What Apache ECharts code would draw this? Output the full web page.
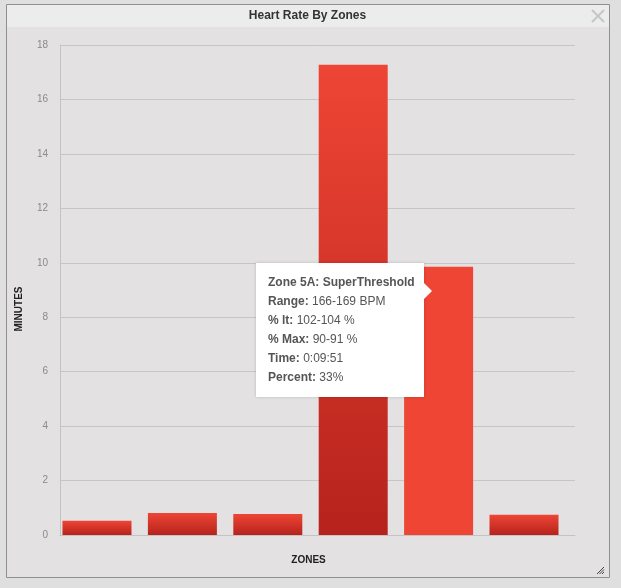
<!DOCTYPE html>
<html>
<head>
<meta charset="utf-8">
<title>Heart Rate By Zones</title>
<script src="https://cdn.jsdelivr.net/npm/echarts@6/dist/echarts.min.js"></script>
<style>
    html, body { margin: 0; padding: 0; background: #e0dfdf; }
    #chart { width: 621px; height: 588px; }
</style>
</head>
<body>
<div id="chart"></div>
<script>
// zones shown on the x axis
const zoneNames = ['Zone 1: Recovery', 'Zone 2: Aerobic', 'Zone 3: Tempo', 'Zone 4: SubThreshold', 'Zone 5A: SuperThreshold', 'Zone 5B: Aerobic Capacity']
// minutes spent in each zone
const minutes = [0.52, 0.81, 0.77, 17.27, 9.85, 0.74]
const yTicks = { min: 0, max: 18, step: 2 }

// tooltip details for the highlighted zone
const tipIndex = 4
const tipRange = '166-169 BPM'
const tipLt = '102-104 %'
const tipMax = '90-91 %'

const font = '"Liberation Sans", Arial, sans-serif'
const total = minutes.reduce((a, b) => a + b, 0)

function fmtTime(m) {
    const s = Math.round(m * 60)
    const mm = Math.floor(s / 60)
    const ss = s % 60
    return '0:' + String(mm).padStart(2, '0') + ':' + String(ss).padStart(2, '0')
}

const barGradient = new echarts.graphic.LinearGradient(0, 0, 0, 1, [
    { offset: 0, color: '#ee4535' },
    { offset: 1, color: '#b6231c' }
])

const chart = echarts.init(document.getElementById('chart'), null, { renderer: 'canvas' })

const option = {
    animation: false,
    backgroundColor: '#e0dfdf',
    textStyle: { fontFamily: font },
    graphic: [
        // panel frame
        { type: 'rect', z: -10, shape: { x: 6.5, y: 4.5, width: 603, height: 573 },
          style: { fill: '#e3e1e2', stroke: '#8f8f8f', lineWidth: 1 } },
        { type: 'rect', z: -9, shape: { x: 7, y: 5, width: 602, height: 22 },
          style: { fill: '#ececec' } },
        { type: 'text', z: 5, x: 307.5, y: 16,
          style: { text: 'Heart Rate By Zones', fill: '#333', font: 'bold 12px ' + font,
                   textAlign: 'center', textVerticalAlign: 'middle' } },
        // close button
        { type: 'line', z: 5, shape: { x1: 592, y1: 10, x2: 604, y2: 22 },
          style: { stroke: '#c6c6c6', lineWidth: 2 } },
        { type: 'line', z: 5, shape: { x1: 604, y1: 10, x2: 592, y2: 22 },
          style: { stroke: '#c6c6c6', lineWidth: 2 } },
        // resize grip
        { type: 'line', z: 5, shape: { x1: 597, y1: 574, x2: 604, y2: 567 },
          style: { stroke: '#444', lineWidth: 1 } },
        { type: 'line', z: 5, shape: { x1: 599.5, y1: 574, x2: 604, y2: 569.5 },
          style: { stroke: '#444', lineWidth: 1 } },
        { type: 'line', z: 5, shape: { x1: 602, y1: 574, x2: 604, y2: 572 },
          style: { stroke: '#444', lineWidth: 1 } }
    ],
    grid: { left: 60, right: 46, top: 45, bottom: 53 },
    xAxis: {
        type: 'value',
        min: -0.433,
        max: 5.597,
        name: 'ZONES',
        nameLocation: 'middle',
        nameGap: 20,
        nameTextStyle: { fontSize: 10, fontWeight: 'bold', color: '#222', padding: [0, 18, 0, 0] },
        axisLine: { show: true, onZero: false, lineStyle: { color: '#c3c3c3' } },
        axisTick: { show: false },
        axisLabel: { show: false },
        splitLine: { show: false }
    },
    yAxis: {
        type: 'value',
        min: yTicks.min,
        max: yTicks.max,
        interval: yTicks.step,
        name: 'MINUTES',
        nameLocation: 'middle',
        nameRotate: 90,
        nameGap: 36,
        nameTextStyle: { fontSize: 10, fontWeight: 'bold', color: '#222', padding: [0, 38, 0, 0] },
        axisLine: { show: true, onZero: false, lineStyle: { color: '#c3c3c3' } },
        axisTick: { show: false },
        axisLabel: { fontSize: 10, color: '#8a8a8a', margin: 12 },
        splitLine: { show: true, lineStyle: { color: '#c6c6c6', width: 1 } }
    },
    tooltip: {
        trigger: 'item',
        triggerOn: 'none',
        alwaysShowContent: true,
        transitionDuration: 0,
        backgroundColor: '#ffffff',
        borderWidth: 0,
        padding: [10, 12, 10, 12],
        extraCssText: 'border-radius:0;box-shadow:0 0 3px rgba(0,0,0,0.18);line-height:19px;',
        textStyle: { fontFamily: font, fontSize: 12, color: '#555' },
        position: function (point, params, dom, rect, size) {
            if (rect) return [rect.x + 20 - size.contentSize[0], rect.y - 4]
            return [256, 262]
        },
        formatter: function (p) {
            const i = p.dataIndex
            const m = minutes[i]
            const pct = Math.round(m / total * 100)
            const row = (k, v) => '<div><b>' + k + '</b> ' + v + '</div>'
            return '<div style="width:144px">' +
                '<div><b>' + zoneNames[i] + '</b></div>' +
                row('Range:', tipRange) +
                row('% lt:', tipLt) +
                row('% Max:', tipMax) +
                row('Time:', fmtTime(m)) +
                row('Percent:', pct + '%') +
                '</div>' +
                '<div style="position:absolute;right:-8px;top:20px;width:0;height:0;' +
                'border-top:8px solid transparent;border-bottom:8px solid transparent;' +
                'border-left:8px solid #fff;"></div>'
        }
    },
    series: [{
        type: 'bar',
        barWidth: 69,
        emphasis: { disabled: true },
        data: minutes.map((v, i) => ({
            value: [i, v],
            itemStyle: { color: i === tipIndex ? '#ee4535' : barGradient }
        }))
    }]
}

chart.setOption(option)
chart.dispatchAction({ type: 'showTip', seriesIndex: 0, dataIndex: tipIndex })
</script>
</body>
</html>
